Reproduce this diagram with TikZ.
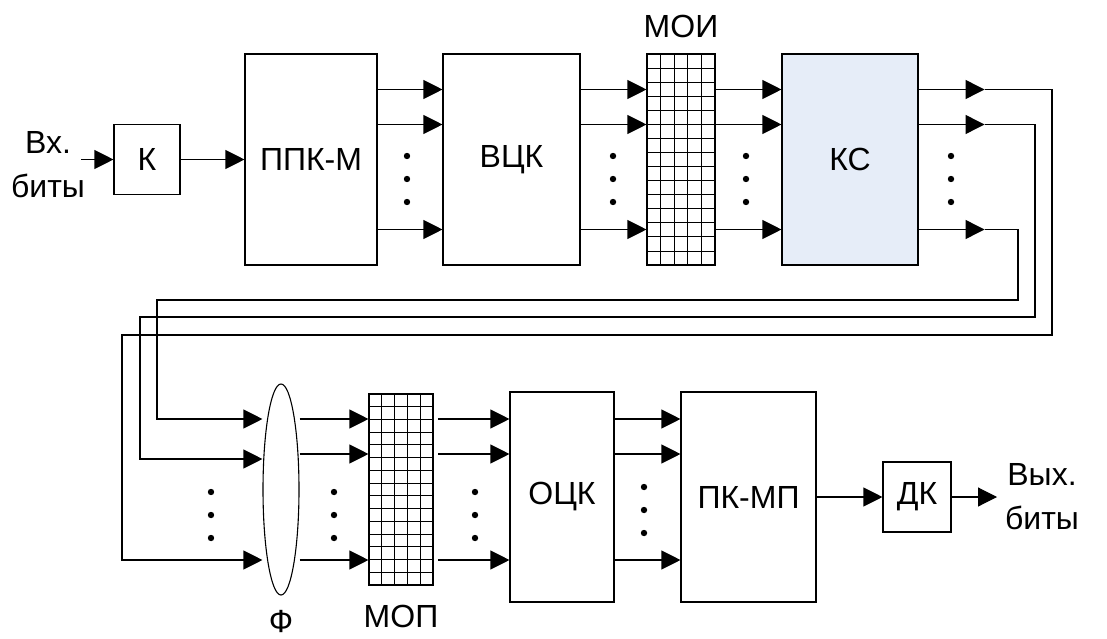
\documentclass[tikz,border=0pt]{standalone}
\usepackage{fontspec}
\setmainfont{Liberation Sans}
\usetikzlibrary{arrows.meta,shapes.geometric}
\definecolor{ksfill}{HTML}{E6EDF8}
\tikzset{
  blk/.style={draw, inner sep=0pt, minimum height=211pt},
  gridln/.style={line width=0.9pt},
  arr/.style={-{Triangle[length=19pt,width=19pt]}},
}
\begin{document}
\begin{tikzpicture}[x=1pt, y=-1pt, line width=1.1pt, font=\fontsize{32}{44}\selectfont]
  \useasboundingbox (0,0) rectangle (1107,639);
  % upper row
  \node[align=center] (vx) at (48,165) {Вх.\\биты};
  \coordinate (vxin) at (81,159.5);
  \node[blk, minimum width=66pt, minimum height=70pt] (k) at (147,159.5) {К};
  \node[blk, minimum width=132pt] (ppk) at (311,159.5) {ППК-М};
  \node[blk, minimum width=137pt] (vck) at (511.5,159.5) {ВЦК};
  \node[blk, minimum width=68pt] (moi) at (681,159.5) {};
  \node[blk, minimum width=136pt, fill=ksfill] (ks) at (850,159.5) {КС};
  \node (moilbl) at (681,26) {МОИ};
  \foreach \i in {1,...,4} \draw[gridln] (647+\i*13.6,54) -- (647+\i*13.6,265);
  \foreach \j in {1,...,14} \draw[gridln] (647,54+\j*14.07) -- (715,54+\j*14.07);
  \draw[arr] (vxin) -- (k);
  \draw[arr] (k) -- (ppk);
  \foreach \s in {70,35,-70} {
    \draw[arr] ([yshift=\s pt]ppk.east) -- ([yshift=\s pt]vck.west);
    \draw[arr] ([yshift=\s pt]vck.east) -- ([yshift=\s pt]moi.west);
    \draw[arr] ([yshift=\s pt]moi.east) -- ([yshift=\s pt]ks.west);
  }
  \coordinate (o1) at ([xshift=66pt,yshift=70pt]ks.east);
  \coordinate (o2) at ([xshift=66pt,yshift=35pt]ks.east);
  \coordinate (o3) at ([xshift=66pt,yshift=-70pt]ks.east);
  \draw[arr] ([yshift=70pt]ks.east) -- (o1);
  \draw[arr] ([yshift=35pt]ks.east) -- (o2);
  \draw[arr] ([yshift=-70pt]ks.east) -- (o3);
  % lower row
  \node[ellipse, draw, inner sep=0pt, minimum width=36pt, minimum height=211pt] (phi) at (281,489.5) {};
  \node (philbl) at (281,621) {Ф};
  \node[blk, minimum width=64pt, minimum height=191pt] (mop) at (401,489.5) {};
  \node (moplbl) at (401,616) {МОП};
  \foreach \i in {1,...,4} \draw[gridln] (369+\i*12.8,394) -- (369+\i*12.8,585);
  \foreach \j in {1,...,14} \draw[gridln] (369,394+\j*12.73) -- (433,394+\j*12.73);
  \node[blk, minimum width=104pt, minimum height=210pt] (ock) at (562,497) {ОЦК};
  \node[blk, minimum width=135pt, minimum height=210pt] (pkmp) at (748.5,497) {ПК-МП};
  \node[blk, minimum width=68pt, minimum height=70pt] (dk) at (917,497) {ДК};
  \coordinate (vyxout) at (997,497);
  \node[align=center] (vyx) at (1042,497) {Вых.\\биты};
  % feedback lines
  \draw[arr] (o1) -| (1052,335) -| (122,560) -- ([yshift=-70.5pt]phi.west);
  \draw[arr] (o2) -| (1035,317) -| (140,459) -- ([yshift=30.5pt]phi.west);
  \draw[arr] (o3) -| (1018,300) -| (157,419) -- ([yshift=70.5pt]phi.west);
  \foreach \s in {70.5,35.5,-70.5}
    \draw[arr] ([yshift=\s pt]phi.east) -- ([yshift=\s pt]mop.west);
  \foreach \s in {78,43,-63} {
    \draw[arr] ([xshift=-71pt,yshift=\s pt]ock.west) -- ([yshift=\s pt]ock.west);
    \draw[arr] ([yshift=\s pt]ock.east) -- ([yshift=\s pt]pkmp.west);
  }
  \draw[arr] (pkmp) -- (dk);
  \draw[arr] (dk) -- (vyxout);
  % dots
  \foreach \x/\y in {407/156, 613/156, 746/156, 951/156, 211/492, 334/492, 475/492, 644/487}
    \foreach \d in {0,23,46} \fill (\x,\y+\d) circle (3.2pt);
\end{tikzpicture}
\end{document}
